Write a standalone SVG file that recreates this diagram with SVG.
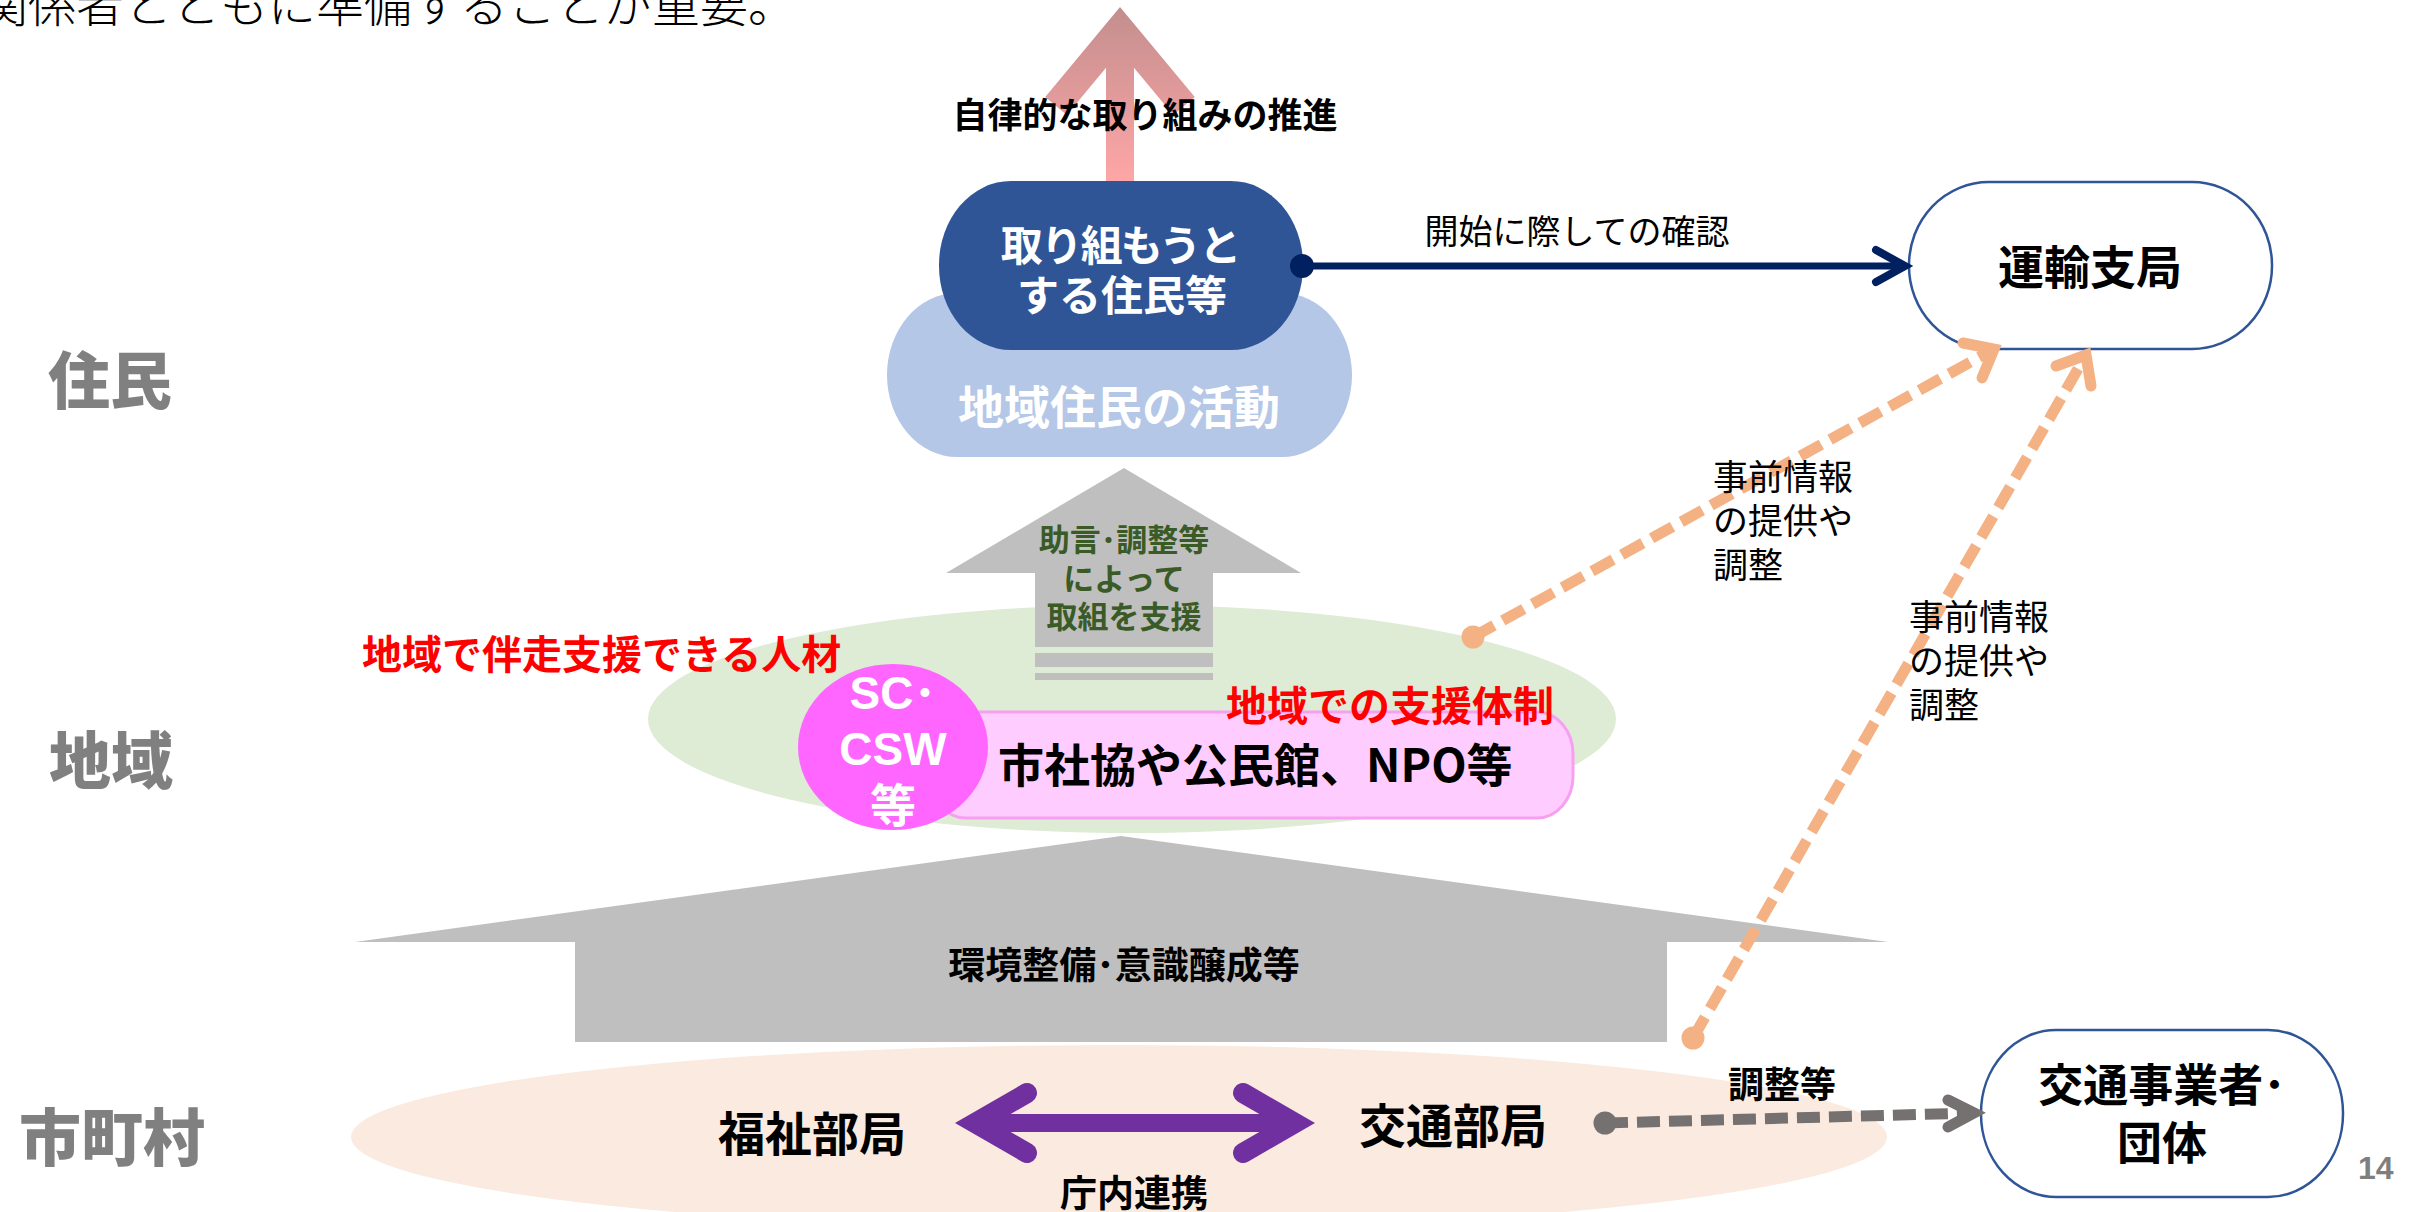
<svg xmlns="http://www.w3.org/2000/svg" width="2409" height="1212" viewBox="0 0 2409 1212">
<defs>
<linearGradient id="pinkGrad" gradientUnits="userSpaceOnUse" x1="0" y1="7" x2="0" y2="182">
<stop offset="0" stop-color="#c38e8e"/>
<stop offset="1" stop-color="#ffa6a6"/>
</linearGradient>
</defs>
<style>
.jp{font-family:"Noto Sans CJK JP","Noto Sans CJK SC",sans-serif;}
.b{font-weight:bold;}
.lbl{font-family:"Noto Sans CJK JP",sans-serif;font-weight:900;fill:#808080;font-size:62px;}
.red{fill:#ff0000;font-weight:bold;}
.wt{fill:#ffffff;font-weight:bold;}
.mid{text-anchor:middle;}
.gray{fill:#bfbfbf;}
.node{fill:#ffffff;stroke:#2f5597;stroke-width:2.5;}
.orange{fill:none;stroke:#f4b183;stroke-width:11;}
.dash-o{stroke-dasharray:24 10;}
.head-o{fill:none;stroke:#f4b183;stroke-width:11;stroke-linecap:round;stroke-linejoin:miter;}
</style>

<!-- top caption (partially cut) -->
<text x="-20" y="22" class="jp" font-size="48" font-weight="300" fill="#000">関係者とともに準備することが重要。</text>

<!-- layer labels -->
<g id="layer-labels">
<text x="110" y="404" class="lbl mid">住民</text>
<text x="111" y="784" class="lbl mid">地域</text>
<text x="112" y="1161" class="lbl mid">市町村</text>
</g>

<!-- background areas -->
<g id="area-city">
<ellipse cx="1119" cy="1137" rx="768" ry="92" fill="#fbeadf"/>
</g>
<g id="area-region">
<ellipse cx="1132" cy="719" rx="484" ry="114" fill="#deebd5"/>
</g>

<!-- big gray arrow -->
<g id="env-arrow">
<polygon class="gray" points="1121,836 1888,942 1667,942 1667,1042 575,1042 575,942 355,942"/>
<text x="1124" y="979" class="jp b mid" font-size="37" fill="#000">環境整備･意識醸成等</text>
</g>

<!-- small gray arrow -->
<g id="support-arrow">
<polygon class="gray" points="1124,468 1301,573 1213,573 1213,647 1035,647 1035,573 946,573"/>
<rect class="gray" x="1035" y="653" width="178" height="14"/>
<rect class="gray" x="1035" y="673" width="178" height="7"/>
<text class="jp b mid" font-size="31" fill="#3a5a26"><tspan x="1124" y="551">助言･調整等</tspan><tspan x="1124" y="590">によって</tspan><tspan x="1124" y="628">取組を支援</tspan></text>
</g>

<!-- pink autonomy arrow -->
<g id="autonomy-arrow">
<line x1="1120" y1="182" x2="1120" y2="40" stroke="url(#pinkGrad)" stroke-width="28"/>
<polyline points="1056,106 1120,29 1184,106" fill="none" stroke="url(#pinkGrad)" stroke-width="28" stroke-linejoin="miter" stroke-miterlimit="10"/>
<text x="1145" y="128" class="jp b mid" font-size="35" fill="#000">自律的な取り組みの推進</text>
</g>

<!-- residents activity -->
<g id="node-activity">
<rect x="887" y="293" width="465" height="164" rx="70" ry="82" fill="#b4c7e7"/>
<text x="1119" y="424" class="jp wt mid" font-size="46">地域住民の活動</text>
</g>
<g id="node-residents">
<rect x="939" y="181" width="364" height="169" rx="72" ry="84" fill="#2f5597"/>
<text class="jp wt mid" font-size="42"><tspan x="1120" y="261" letter-spacing="-2">取り組もうと</tspan><tspan x="1122" y="311">する住民等</tspan></text>
</g>

<!-- regional organizations -->
<g id="node-org">
<rect x="930" y="712" width="643" height="106" rx="36" ry="42" fill="#ffccff" stroke="#f7a0f2" stroke-width="3"/>
<text x="998" y="782" class="jp b" font-size="46" fill="#000">市社協や公民館、NPO等</text>
</g>
<g id="node-sc">
<ellipse cx="893" cy="747" rx="95" ry="83" fill="#ff66ff"/>
<text class="wt mid" font-size="46" font-family="Liberation Sans,Noto Sans CJK JP,sans-serif"><tspan x="893" y="709">SC･</tspan><tspan x="893" y="765">CSW</tspan><tspan x="893" y="822">等</tspan></text>
</g>
<text x="362" y="669" class="jp red" font-size="40">地域で伴走支援できる人材</text>
<text x="1226" y="721" class="jp red" font-size="41">地域での支援体制</text>

<!-- departments -->
<g id="node-welfare">
<text x="812" y="1151" class="jp b mid" font-size="47" fill="#000">福祉部局</text>
</g>
<g id="node-transport-dept">
<text x="1453" y="1143" class="jp b mid" font-size="47" fill="#000">交通部局</text>
</g>

<!-- external nodes -->
<g id="node-bureau">
<rect class="node" x="1909" y="182" width="363" height="167" rx="80" ry="83"/>
<text x="2090" y="284" class="jp b mid" font-size="46" fill="#000">運輸支局</text>
</g>
<g id="node-operators">
<rect class="node" x="1981" y="1030" width="362" height="167" rx="75" ry="83"/>
<text class="jp b mid" font-size="45" fill="#000"><tspan x="2162" y="1102">交通事業者･</tspan><tspan x="2162" y="1160">団体</tspan></text>
</g>

<!-- connectors -->
<g id="connectors">
<!-- residents -> bureau -->
<line x1="1302" y1="266" x2="1905" y2="266" stroke="#002060" stroke-width="7"/>
<circle cx="1302" cy="266" r="12" fill="#002060"/>
<polyline points="1876,250 1905,266 1876,282" fill="none" stroke="#002060" stroke-width="8" stroke-linecap="round" stroke-linejoin="miter"/>
<text x="1577" y="244" class="jp mid" font-size="34" fill="#000">開始に際しての確認</text>

<!-- region -> bureau -->
<line class="orange dash-o" x1="1473" y1="637" x2="1994" y2="349"/>
<circle cx="1473" cy="637" r="11.5" fill="#f4b183"/>
<polyline class="head-o" points="1963,343 1994,349 1982,378"/>
<text class="jp" font-size="35" fill="#000"><tspan x="1713" y="490">事前情報</tspan><tspan x="1713" y="534">の提供や</tspan><tspan x="1713" y="578">調整</tspan></text>

<!-- city -> bureau -->
<line class="orange dash-o" x1="1693" y1="1038" x2="2086" y2="355"/>
<circle cx="1693" cy="1038" r="11.5" fill="#f4b183"/>
<polyline class="head-o" points="2056,366 2086,355 2091,386"/>
<text class="jp" font-size="35" fill="#000"><tspan x="1909" y="630">事前情報</tspan><tspan x="1909" y="674">の提供や</tspan><tspan x="1909" y="718">調整</tspan></text>

<!-- internal cooperation -->
<line x1="985" y1="1123" x2="1285" y2="1123" stroke="#7030a0" stroke-width="18"/>
<polyline points="1027,1093 975,1123 1027,1153" fill="none" stroke="#7030a0" stroke-width="20" stroke-linecap="round" stroke-linejoin="miter"/>
<polyline points="1243,1093 1295,1123 1243,1153" fill="none" stroke="#7030a0" stroke-width="20" stroke-linecap="round" stroke-linejoin="miter"/>
<text x="1134" y="1207" class="jp b mid" font-size="37" fill="#000">庁内連携</text>

<!-- transport dept -> operators -->
<line x1="1605" y1="1123" x2="1972" y2="1113" stroke="#767171" stroke-width="11" stroke-dasharray="23 9"/>
<circle cx="1605" cy="1123" r="11.5" fill="#767171"/>
<polyline points="1948,1100 1974,1113 1948,1127" fill="none" stroke="#767171" stroke-width="11" stroke-linecap="round" stroke-linejoin="miter"/>
<text x="1782" y="1098" class="jp b mid" font-size="36" fill="#000">調整等</text>
</g>

<text x="2358" y="1179" font-family="Liberation Sans,sans-serif" font-weight="bold" font-size="32" fill="#7f7f7f">14</text>
</svg>
